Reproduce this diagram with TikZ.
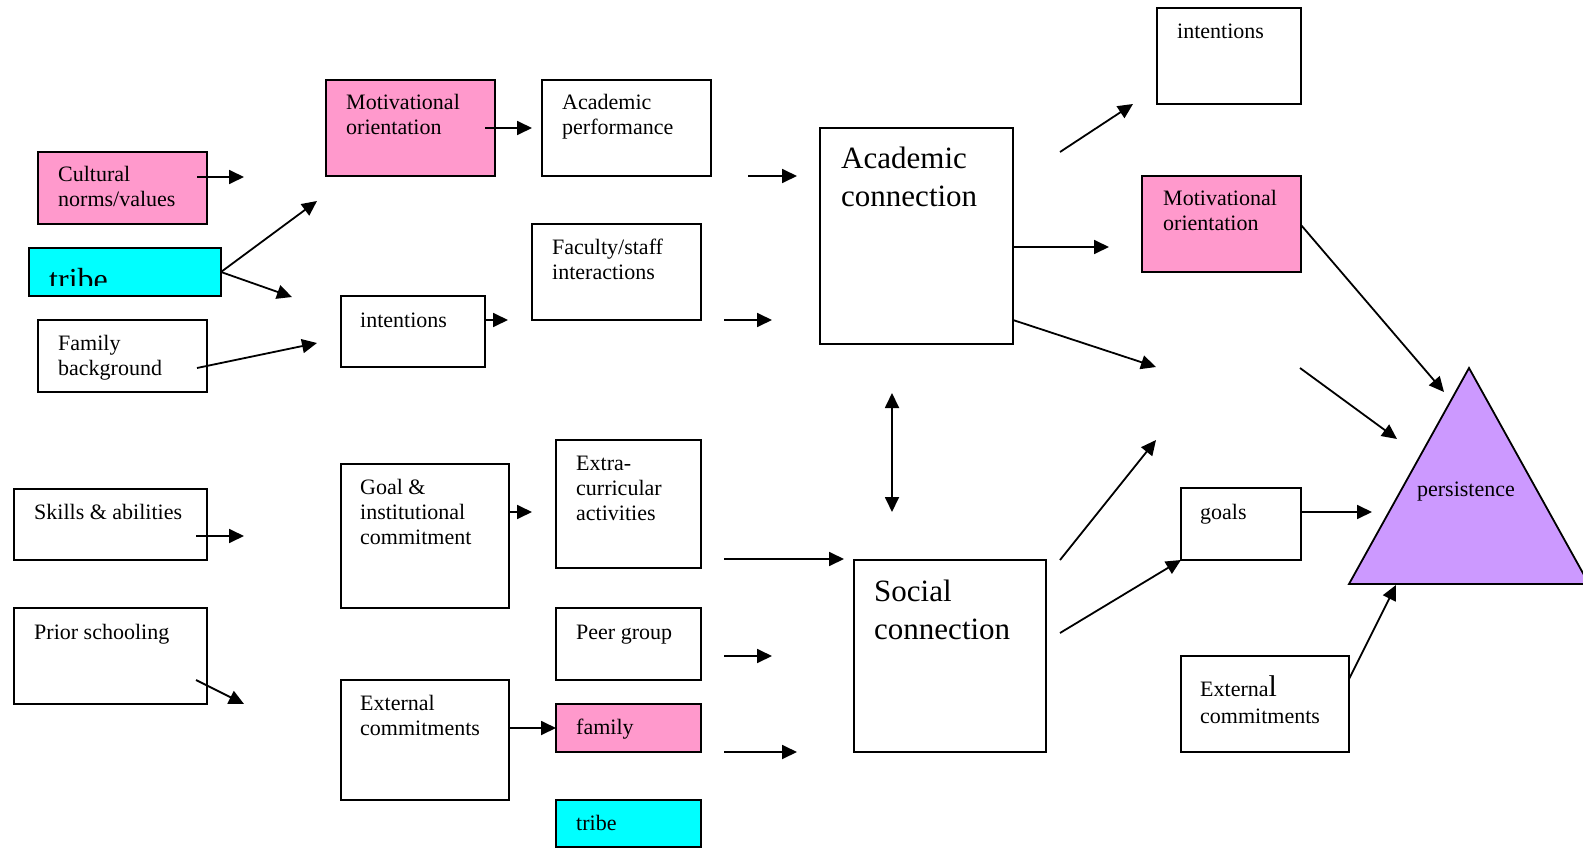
\documentclass[tikz,border=0pt]{standalone}
\usepackage{fontspec}
\setmainfont{Liberation Serif}
\usetikzlibrary{arrows.meta,fit}
\definecolor{pinkb}{HTML}{FF99CC}
\definecolor{cyanb}{HTML}{00FFFF}
\definecolor{purpb}{HTML}{CC99FF}
\begin{document}
\begin{tikzpicture}[x=1pt,y=-1pt,
 bx/.style={draw, line width=1.8pt, inner sep=0pt, outer sep=0pt, rectangle},
 txt/.style={font=\fontsize{22}{25}\selectfont, align=left, inner sep=0pt, anchor=base west},
 bigtxt/.style={font=\fontsize{31}{38}\selectfont, align=left, inner sep=0pt, anchor=base west},
 arr/.style={line width=1.8pt, -{Triangle[length=15pt,width=14pt]}},
 arrboth/.style={line width=1.8pt, {Triangle[length=15pt,width=14pt]}-{Triangle[length=15pt,width=14pt]}}]
\useasboundingbox (0,0) rectangle (1583,848);
% boxes
\node[bx,fill=pinkb,fit={(38,152)(207,224)}] (cult) {};
\node[bx,fill=cyanb,fit={(29,248)(221,296)}] (tribeL) {};
\node[bx,fit={(38,320)(207,392)}] (fam) {};
\node[bx,fit={(14,489)(207,560)}] (skill) {};
\node[bx,fit={(14,608)(207,704)}] (prior) {};
\node[bx,fill=pinkb,fit={(326,80)(495,176)}] (motL) {};
\node[bx,fit={(341,296)(485,367)}] (intL) {};
\node[bx,fit={(341,464)(509,608)}] (goalc) {};
\node[bx,fit={(341,680)(509,800)}] (extL) {};
\node[bx,fit={(542,80)(711,176)}] (acperf) {};
\node[bx,fit={(532,224)(701,320)}] (fac) {};
\node[bx,fit={(556,440)(701,568)}] (extra) {};
\node[bx,fit={(556,608)(701,680)}] (peer) {};
\node[bx,fill=pinkb,fit={(556,704)(701,752)}] (family) {};
\node[bx,fill=cyanb,fit={(556,800)(701,847)}] (tribeB) {};
\node[bx,fit={(820,128)(1013,344)}] (acad) {};
\node[bx,fit={(854,560)(1046,752)}] (soc) {};
\node[bx,fit={(1157,8)(1301,104)}] (intR) {};
\node[bx,fill=pinkb,fit={(1142,176)(1301,272)}] (motR) {};
\node[bx,fit={(1181,488)(1301,560)}] (goals) {};
\node[bx,fit={(1181,656)(1349,752)}] (extR) {};
% triangle
\coordinate (tL) at (1349,584);
\coordinate (tA) at (1469,368);
\coordinate (tR) at (1589,584);
\draw[line width=1.8pt, fill=purpb] (tL) -- (tA) -- (tR) -- cycle;
% texts (base anchor = last line)
\node[txt] (cultT) at ([shift={(20,55)}]cult.north west) {Cultural\\norms/values};
\begin{scope}
\clip (29,248) rectangle (221,285);
\node[font=\fontsize{32}{32}\selectfont, inner sep=0pt, anchor=base west] (tribeLT) at (49,290) {tribe};
\end{scope}
\node[txt] (famT) at ([shift={(20,55)}]fam.north west) {Family\\background};
\node[txt] (skillT) at ([shift={(20,30)}]skill.north west) {Skills \& abilities};
\node[txt] (priorT) at ([shift={(20,31)}]prior.north west) {Prior schooling};
\node[txt] (motLT) at ([shift={(20,55)}]motL.north west) {Motivational\\orientation};
\node[txt] (intLT) at ([shift={(19,31)}]intL.north west) {intentions};
\node[txt] (goalcT) at ([shift={(19,80)}]goalc.north west) {Goal \&\\institutional\\commitment};
\node[txt] (extLT) at ([shift={(19,55)}]extL.north west) {External\\commitments};
\node[txt] (acperfT) at ([shift={(20,55)}]acperf.north west) {Academic\\performance};
\node[txt] (facT) at ([shift={(20,55)}]fac.north west) {Faculty/staff\\interactions};
\node[txt] (extraT) at ([shift={(20,80)}]extra.north west) {Extra-\\curricular\\activities};
\node[txt] (peerT) at ([shift={(20,31)}]peer.north west) {Peer group};
\node[txt] (familyT) at ([shift={(20,30)}]family.north west) {family};
\node[txt] (tribeBT) at ([shift={(20,30)}]tribeB.north west) {tribe};
\node[bigtxt] (acadT) at ([shift={(21,79)}]acad.north west) {Academic\\connection};
\node[bigtxt] (socT) at ([shift={(20,79)}]soc.north west) {Social\\connection};
\node[txt] (intRT) at ([shift={(20,31)}]intR.north west) {intentions};
\node[txt] (motRT) at ([shift={(21,54)}]motR.north west) {Motivational\\orientation};
\node[txt] (goalsT) at ([shift={(19,31)}]goals.north west) {goals};
\node[txt] (extRT) at ([shift={(19,67)}]extR.north west) {Externa{\fontsize{30}{30}\selectfont l}\\[2pt]commitments};
\node[font=\fontsize{22}{25}\selectfont, inner sep=0pt, anchor=base] (pers) at (1466,496) {persistence};
% free ends
\coordinate (e1) at (244,177);
\coordinate (e2) at (317,201);
\coordinate (e3) at (292,297);
\coordinate (e4) at (317,343);
\coordinate (e5) at (244,536);
\coordinate (e6) at (244,704);
\coordinate (e7) at (532,128);
\coordinate (e8) at (508,320);
\coordinate (s9) at (748,176);
\coordinate (e9) at (797,176);
\coordinate (s10) at (724,320);
\coordinate (e10) at (772,320);
\coordinate (e11) at (532,512);
\coordinate (s12) at (724,559);
\coordinate (e12) at (844,559);
\coordinate (s13) at (724,656);
\coordinate (e13) at (772,656);
\coordinate (s14) at (724,752);
\coordinate (e14) at (797,752);
\coordinate (s15) at (892,393);
\coordinate (e15) at (892,512);
\coordinate (s16) at (1060,152);
\coordinate (e16) at (1133,104);
\coordinate (e17) at (1109,247);
\coordinate (e18) at (1156,367);
\coordinate (e19) at (1444,392);
\coordinate (s20) at (1300,368);
\coordinate (e20) at (1397,439);
\coordinate (e21) at (1372,512);
\coordinate (e22) at (1396,585);
\coordinate (s23) at (1060,560);
\coordinate (e23) at (1156,440);
\coordinate (s24) at (1060,633);
% arrows
\draw[arr] ([shift={(-10,25)}]cult.north east) -- (e1);
\draw[arr] (tribeL.east) -- (e2);
\draw[arr] (tribeL.east) -- (e3);
\draw[arr] ([shift={(-10,48)}]fam.north east) -- (e4);
\draw[arr] ([shift={(-11,47)}]skill.north east) -- (e5);
\draw[arr] ([shift={(-11,72)}]prior.north east) -- (e6);
\draw[arr] ([shift={(-10,48)}]motL.north east) -- (e7);
\draw[arr] ([shift={(0,24)}]intL.north east) -- (e8);
\draw[arr] (s9) -- (e9);
\draw[arr] (s10) -- (e10);
\draw[arr] ([shift={(0,48)}]goalc.north east) -- (e11);
\draw[arr] (extL.east |- family.west) -- (family.west);
\draw[arr] (s12) -- (e12);
\draw[arr] (s13) -- (e13);
\draw[arr] (s14) -- (e14);
\draw[arrboth] (s15) -- (e15);
\draw[arr] (s16) -- (e16);
\draw[arr] ([shift={(0,119)}]acad.north east) -- (e17);
\draw[arr] ([shift={(0,192)}]acad.north east) -- (e18);
\draw[arr] ([shift={(0,49)}]motR.north east) -- (e19);
\draw[arr] (s20) -- (e20);
\draw[arr] ([shift={(0,24)}]goals.north east) -- (e21);
\draw[arr] ([shift={(0,23)}]extR.north east) -- (e22);
\draw[arr] (s23) -- (e23);
\draw[arr] (s24) -- (goals.south west);
\end{tikzpicture}
\end{document}
